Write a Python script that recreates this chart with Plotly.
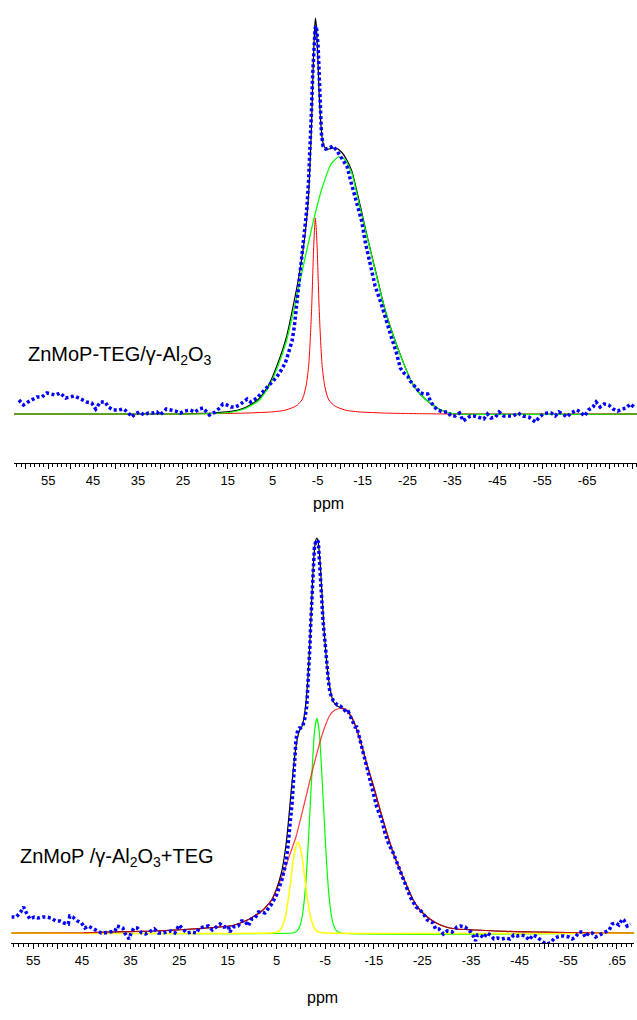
import plotly.graph_objects as go

# ---------------- TOP PANEL: ZnMoP-TEG/γ-Al2O3 ----------------
top_data_ppm = [61.5, 60.5, 59.5, 58.5, 57.5, 56.4, 55.3, 54.4, 53.4, 52.3,
                51.1, 50.1, 49.2, 48.2, 47.3, 46.4, 45.3, 44.4, 43.4, 42.3,
                41.6, 40.5, 39.3, 38.2, 37.1, 36.4, 35.6, 34.7, 33.6, 32.7,
                31.7, 30.8, 30.1, 28.7, 27.7, 26.7, 25.6, 24.6, 23.4, 22.3,
                21.4, 20.5, 19.1, 17.8, 16.8, 16.1, 15.2, 14.3, 13.4, 12.4,
                10.7, 9.9, 8.5, 7.4, 6.3, 5.2, 4.1, 3.1, 2.2, 1.5,
                0.7, 0.2, -0.2, -0.6, -1.0, -1.5, -2.0, -2.6, -3.0, -3.3,
                -3.6, -3.9, -4.2, -4.45, -4.7, -4.9, -5.1, -5.3, -5.45, -5.65,
                -5.85, -6.2, -6.8, -7.6, -8.4, -9.2, -10.0, -10.8, -11.6, -12.3,
                -13.1, -13.9, -14.8, -15.6, -16.7, -17.8, -19.1, -20.2, -21.4, -22.5,
                -23.4, -24.2, -25.0, -25.6, -26.4, -27.1, -27.9, -28.7, -29.5, -30.1,
                -30.8, -31.7, -32.9, -33.9, -34.7, -35.6, -36.6, -37.4, -38.0, -39.0,
                -39.9, -41.1, -42.0, -42.8, -43.6, -44.6, -45.4, -46.4, -47.4, -48.5,
                -49.6, -50.7, -52.0, -53.5, -54.2, -55.2, -56.2, -57.0, -57.9, -58.7,
                -59.6, -60.5, -61.4, -62.7, -63.5, -64.4, -65.3, -66.3, -67.0, -67.9,
                -68.8, -69.8, -70.8, -71.8, -72.8, -73.7, -74.6, -75.7]
top_data_int = [14, 9, 12, 15, 17, 17, 21, 20, 19, 21,
                16, 17, 18, 16, 14, 12, 11, 5, 12, 12,
                7, 4, 4, 5, 1, -3, 0, 2, -1, 1,
                1, 2, -1, 5, 4, 3, 1, 3, 4, 2,
                5, 6, -1, 2, 6, 10, 9, 7, 7, 9,
                15, 12, 16, 21, 26, 31, 37, 44, 51, 61,
                73, 87, 104, 120, 136, 160, 182, 205, 235, 262,
                300, 340, 375, 386, 388, 380, 368, 345, 320, 297,
                280, 268, 265, 266, 268, 264, 258, 253, 247, 234,
                220, 207, 193, 172, 150, 128, 111, 94, 77, 62,
                46, 41, 38, 33, 29, 26, 21, 20, 20, 13,
                8, 4, 2, 2, -2, -2, 1, -7, -5, -2,
                -2, -4, -5, 0, -4, -3, 2, -2, -2, -2,
                1, -2, -3, -8, -4, 0, 1, 1, -2, 2,
                0, -3, 1, 4, 2, -2, 4, 7, 12, 7,
                10, 9, 5, 3, 5, 6, 10, 6]

top_fit_ppm = [62.6, 26, 22, 18, 16, 14, 12, 10, 8, 6,
               4, 2, 0, -1, -2, -2.5, -3.0, -3.3, -3.5, -3.7,
               -3.9, -4.1, -4.3, -4.5, -4.7, -4.9, -5.1, -5.3, -5.5, -5.7,
               -6.0, -6.5, -7.0, -7.5, -8.5, -9.5, -10.5, -11.5, -12.6, -14.5,
               -16, -18, -20, -22, -24, -26, -28, -30, -32, -34,
               -36, -76.1]
top_fit_int = [0, 0, 0.5, 1, 1.8, 2.8, 5, 9, 15.5, 28,
               49, 76, 118, 142, 172, 192, 220, 250, 272, 298,
               330, 360, 383, 396, 389, 372, 349, 324, 306, 291,
               276, 267, 265, 265, 266, 265, 261, 254, 243, 208,
               178, 141, 104.6, 76.5, 52.4, 31.2, 19, 11, 5, 1.5,
               0, 0]

top_green_ppm = [62.6, 22, 18, 16, 14, 12, 10, 8, 6, 4,
                 2, 0, -2, -4, -6, -8, -9.6, -11, -12.6, -14,
                 -16, -18, -20, -22, -24, -26, -28, -30, -32, -34,
                 -36, -76.1]
top_green_int = [0, 0, 0.5, 1, 2, 4, 8, 14, 26, 46,
                 72, 110, 152, 192, 226, 250, 257, 255, 241, 215,
                 177, 140, 104, 76, 52, 31, 19, 11, 5, 1.5,
                 0, 0]

top_red_ppm = [62.6, 25.5, 15.5, 10.5, 5.5, 2.5, 0.5, -0.5, -1.5, -2.0,
               -2.5, -3.0, -3.3, -3.5, -3.7, -3.9, -4.1, -4.3, -4.5, -4.7,
               -4.9, -5.1, -5.3, -5.5, -5.7, -6.0, -6.5, -7.0, -7.5, -8.5,
               -9.5, -11.5, -14.5, -19.5, -24.5, -34.5, -76.1]
top_red_int = [0, 0, 0.5, 1, 2, 3.5, 6.5, 9, 14, 20,
               30, 48, 70, 88, 110, 138, 165, 185, 196, 185,
               165, 138, 110, 88, 70, 48, 30, 20, 14, 9,
               6.5, 3.5, 2, 1, 0.5, 0, 0]

# ---------------- BOTTOM PANEL: ZnMoP /γ-Al2O3+TEG ----------------
bot_data_ppm = [59.5, 58.5, 57.6, 57.0, 56.4, 55.7, 54.8, 54.0, 53.1, 52.3,
                51.4, 50.4, 49.5, 48.7, 47.8, 47.5, 46.9, 45.9, 45.1, 44.4,
                43.7, 43.0, 42.0, 41.0, 40.4, 39.3, 38.2, 37.8, 36.6, 36.2,
                35.3, 34.9, 34.3, 33.6, 32.7, 31.9, 31.0, 30.1, 29.3, 28.4,
                27.6, 26.7, 25.9, 25.0, 24.3, 23.4, 22.4, 21.4, 20.9, 19.9,
                19.0, 18.2, 16.6, 15.8, 14.9, 14.6, 13.9, 12.9, 12.2, 11.5,
                10.8, 10.1, 9.4, 8.7, 8.0, 7.4, 6.5, 6.0, 5.0, 4.4,
                3.9, 3.4, 3.0, 2.7, 2.4, 2.2, 2.0, 1.8, 1.6, 1.4,
                1.2, 1.0, 0.64, 0.3, 0.0, -0.4, -0.8, -1.2, -1.4, -1.6,
                -1.75, -1.9, -2.0, -2.25, -2.45, -2.6, -2.8, -3.1, -3.35, -3.6,
                -3.8, -3.95, -4.1, -4.3, -4.6, -5.0, -5.3, -5.65, -6.0, -6.7,
                -7.5, -8.1, -8.8, -9.45, -9.8, -10.5, -11.15, -11.5, -12.2, -12.9,
                -13.55, -14.2, -14.9, -15.6, -16.65, -17.3, -18.0, -19.0, -20.1, -21.1,
                -22.5, -23.2, -23.7, -24.3, -25.1, -26.0, -26.6, -27.2, -27.7, -28.4,
                -29.3, -30.1, -31.1, -32.1, -32.8, -33.8, -34.9, -35.6, -35.9, -36.3,
                -36.9, -37.6, -38.3, -39.0, -39.7, -40.4, -41.3, -42.1, -43.0, -43.8,
                -44.5, -45.3, -46.2, -46.9, -47.8, -48.6, -49.3, -50.3, -51.3, -52.2,
                -53.3, -54.1, -55.1, -55.8, -56.5, -57.2, -57.9, -58.5, -59.2, -59.9,
                -60.6, -61.3, -62.3, -63.4, -64.0, -64.7, -65.4, -66.1, -66.4, -67.1,
                -67.8]
bot_data_int = [16, 16, 21, 26, 20, 14, 16, 15, 16, 16,
                15, 12, 12, 10, 9, 17, 16, 12, 10, 5,
                7, 5, 2, 0, 0, 1, 2, 7, 5, 0,
                -6, 0, 5, 5, 0, -1, 2, 4, 0, 0,
                1, 2, 0, 8, 4, 0, 1, 0, 5, 6,
                7, 3, 9, 6, 7, 1, 6, 7, 12, 12,
                7, 14, 15, 21, 21, 20, 26, 29, 38, 45,
                53, 63, 72, 84, 98, 108, 118, 130, 145, 163,
                180, 193, 203, 205, 205, 207, 214, 226, 243, 258,
                273, 290, 305, 336, 363, 376, 386, 392, 393, 391,
                380, 363, 350, 330, 310, 290, 270, 253, 240, 232,
                228, 227, 224, 220, 221, 213, 206, 206, 193, 180,
                166, 153, 140, 126, 113, 100, 90, 80, 66, 53,
                36, 30, 26, 24, 20, 13, 11, 10, 4, 4,
                -1, 2, 1, 6, 7, 6, 1, -4, -8, -2,
                -2, -5, 0, -2, -6, -5, -6, -5, -6, -2,
                -3, -2, -3, -7, -2, -4, -7, -11, -10, -5,
                -3, -3, -4, -6, -4, 1, 1, -4, 0, 0,
                -4, -2, 0, 3, 9, 10, 8, 14, 13, 7,
                9]

bot_fit_ppm = [59.5, 45, 40, 30, 24, 18, 14, 11, 8, 6,
               5, 4, 3.5, 3.0, 2.5, 2.0, 1.5, 1.0, 0.6, 0.2,
               -0.2, -0.6, -1.0, -1.4, -1.8, -2.2, -2.6, -3.0, -3.3, -3.6,
               -4.0, -4.4, -4.8, -5.2, -5.6, -6.0, -6.5, -7.0, -7.5, -8.4,
               -9.5, -10.8, -12.2, -13.5, -15, -16.3, -17.7, -19, -20.4, -21.8,
               -23.1, -24.5, -26, -27.5, -29.5, -32, -36, -40, -44, -48,
               -52, -58, -62, -68.5]
bot_fit_int = [0, 0, 0.8, 2, 3.5, 5.5, 7.5, 13, 22, 33,
               44, 60, 73, 90, 114, 141, 166, 186, 197, 203,
               206, 214, 228, 250, 284, 328, 370, 391, 395, 390,
               368, 335, 302, 278, 258, 245, 234, 229, 227, 225,
               222, 212, 193, 170, 146, 123, 100, 80, 63, 47,
               33, 23, 16, 11, 6.5, 4, 3, 2, 1.3, 1,
               0.7, 0.3, 0, 0]

bot_red_ppm = [59.5, 45, 40, 30, 24, 18, 14, 11, 8, 6,
               5, 4, 3, 2, 1, 0, -1, -2, -3, -4,
               -5, -6, -7, -8.4, -9.5, -10.8, -12.2, -13.5, -15, -16.3,
               -17.7, -19, -20.4, -21.8, -23.1, -24.5, -26, -27.5, -29.5, -32,
               -36, -40, -44, -48, -52, -58, -62, -68.5]
bot_red_int = [0, 0, 0.8, 2, 3.5, 5.5, 7.5, 13, 22, 33,
               43, 55, 68, 82, 96, 115, 135, 155, 174, 192,
               207, 218, 223, 225, 223, 213, 193, 170, 146, 123,
               100, 80, 63, 47, 33, 23, 16, 11, 6.5, 4,
               3, 2, 1.3, 1, 0.7, 0.3, 0, 0]

bot_green_ppm = [59.5, 1.7, 1.2, 0.7, 0.2, -0.3, -0.8, -1.3, -1.8, -2.3,
                 -2.8, -3.3, -3.8, -4.3, -4.8, -5.3, -5.8, -6.3, -6.8, -7.3,
                 -8.3, -68.5]
bot_green_int = [0, 0, 0.8, 2.4, 7, 17, 37, 70, 115, 161,
                 201, 215, 201, 161, 115, 70, 37, 17, 7, 2.4,
                 0, 0]

bot_yellow_ppm = [59.5, 5.5, 4.6, 4.1, 3.6, 3.1, 2.6, 2.1, 1.6, 1.1,
                  0.6, 0.1, -0.4, -0.9, -1.4, -1.9, -2.4, -2.9, -3.4, -4.3,
                  -68.5]
bot_yellow_int = [0, 0.3, 1.5, 4, 9, 18, 33, 51, 71, 85,
                  91, 85, 71, 51, 33, 18, 9, 4, 1.5, 0.3,
                  0]

# major ticks every 5 ppm, labelled every 10 ppm
top_tick_vals = [60, 55, 50, 45, 40, 35, 30, 25, 20, 15, 10, 5, 0, -5, -10, -15, -20,
                 -25, -30, -35, -40, -45, -50, -55, -60, -65, -70, -75]
top_tick_text = ["", "55", "", "45", "", "35", "", "25", "", "15", "", "5", "", "-5", "", "-15", "",
                 "-25", "", "-35", "", "-45", "", "-55", "", "-65", "", ""]
bot_tick_vals = [55, 50, 45, 40, 35, 30, 25, 20, 15, 10, 5, 0, -5, -10, -15, -20,
                 -25, -30, -35, -40, -45, -50, -55, -60, -65]
bot_tick_text = ["55", "", "45", "", "35", "", "25", "", "15", "", "5", "", "-5", "", "-15", "",
                 "-25", "", "-35", "", "-45", "", "-55", "", ".65"]

FONT = "Arial, Liberation Sans, sans-serif"

fig = go.Figure()


def curve(x, y, color, width, xa, ya, smooth=True, opacity=1.0):
    line = dict(color=color, width=width)
    if smooth:
        line.update(shape="spline", smoothing=0.5)
    fig.add_trace(go.Scatter(x=x, y=y, mode="lines", line=line, opacity=opacity,
                             xaxis=xa, yaxis=ya, hoverinfo="skip", showlegend=False))


def dotted(x, y, xa, ya):
    fig.add_trace(go.Scatter(x=x, y=y, mode="lines",
                             line=dict(color="#0000ff", width=3.5, dash="3px,2.5px"),
                             xaxis=xa, yaxis=ya, hoverinfo="skip", showlegend=False))


# top panel (fit underneath the components, data on top)
curve(top_fit_ppm, top_fit_int, "#000000", 1.2, "x", "y")
curve(top_red_ppm, top_red_int, "#ff0000", 1, "x", "y")
curve(top_green_ppm, top_green_int, "#00ff00", 1.2, "x", "y")
dotted(top_data_ppm, top_data_int, "x", "y")

# bottom panel
curve(bot_fit_ppm, bot_fit_int, "#000000", 1.2, "x2", "y2")
curve(bot_green_ppm, bot_green_int, "#00ff00", 1.2, "x2", "y2")
curve(bot_yellow_ppm, bot_yellow_int, "#ffff00", 1.5, "x2", "y2")
curve(bot_red_ppm, bot_red_int, "#ff0000", 1.2, "x2", "y2", opacity=0.75)
dotted(bot_data_ppm, bot_data_int, "x2", "y2")

W, H = 637, 1020


def xaxis_style(domain, rng, anchor, vals, texts):
    return dict(domain=domain, range=rng, anchor=anchor, showline=True, linecolor="#000000",
                linewidth=1, ticks="outside", ticklen=5, tickwidth=1, tickcolor="#000000",
                tickmode="array", tickvals=vals, ticktext=texts,
                tickfont=dict(family=FONT, size=13, color="#000000"),
                showgrid=False, zeroline=False, fixedrange=True,
                minor=dict(ticks="outside", ticklen=3, tickwidth=1, tickcolor="#000000",
                           tickmode="linear", tick0=0, dtick=1, showgrid=False))


fig.update_layout(
    width=W, height=H, margin=dict(l=0, r=0, t=0, b=0),
    paper_bgcolor="white", plot_bgcolor="white", showlegend=False,
    xaxis=xaxis_style([14 / W, 1.0], [62.6, -76.1], "y", top_tick_vals, top_tick_text),
    yaxis=dict(domain=[1 - 463 / H, 1.0], range=[-49, 414], visible=False, fixedrange=True),
    xaxis2=xaxis_style([11.4 / W, 634 / W], [59.5, -68.5], "y2", bot_tick_vals, bot_tick_text),
    yaxis2=dict(domain=[1 - 943 / H, 1 - 463 / H], range=[-10, 470], visible=False, fixedrange=True),
    annotations=[
        dict(text="ZnMoP-TEG/γ-Al<sub>2</sub>O<sub>3</sub>", x=26 / W, y=1 - 355 / H,
             xref="paper", yref="paper", xanchor="left", yanchor="middle", showarrow=False,
             font=dict(family=FONT, size=20, color="#000000")),
        dict(text="ZnMoP /γ-Al<sub>2</sub>O<sub>3</sub>+TEG", x=18 / W, y=1 - 857 / H,
             xref="paper", yref="paper", xanchor="left", yanchor="middle", showarrow=False,
             font=dict(family=FONT, size=20, color="#000000")),
        dict(text="ppm", x=328 / W, y=1 - 503 / H, xref="paper", yref="paper",
             xanchor="center", yanchor="middle", showarrow=False,
             font=dict(family=FONT, size=16, color="#000000")),
        dict(text="ppm", x=322 / W, y=1 - 997 / H, xref="paper", yref="paper",
             xanchor="center", yanchor="middle", showarrow=False,
             font=dict(family=FONT, size=16, color="#000000")),
    ],
)

fig.write_html("out.html", config={"displayModeBar": False},
               post_script="document.body.style.margin='0';document.body.style.overflow='hidden';")
